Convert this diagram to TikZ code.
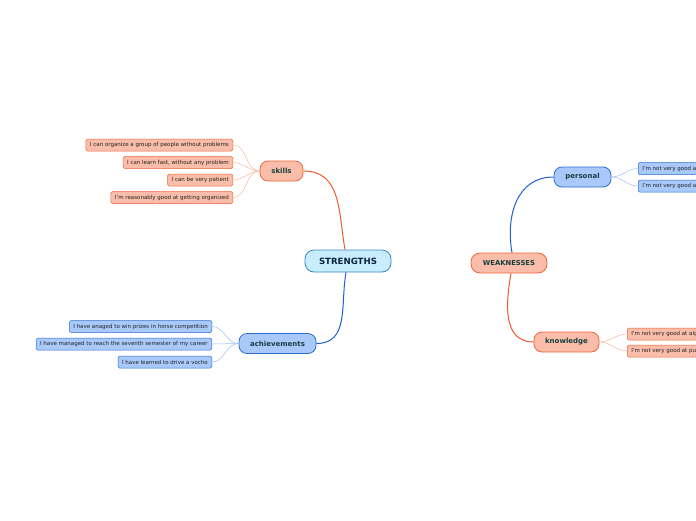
\documentclass[tikz,border=0pt]{standalone}
\usepackage{fontspec}
\setmainfont{DejaVu Sans}
\begin{document}
\begin{tikzpicture}[x=1pt,y=-1pt,
  salfill/.style={fill=salF,draw=salD},
  blufill/.style={fill=bluF,draw=bluD},
  mainbox/.style={rounded corners=9pt,line width=0.8pt,minimum height=22pt,inner xsep=6pt,font=\fontsize{8.6}{9}\selectfont\bfseries,text=mainT},
  subbox/.style={rounded corners=8pt,line width=0.8pt,minimum height=20pt,inner xsep=6pt,font=\fontsize{7}{8}\selectfont\bfseries,text=subT},
  leaf/.style={rounded corners=1.5pt,line width=0.5pt,minimum height=12pt,inner xsep=4pt,inner ysep=1pt,font=\fontsize{5.5}{6}\selectfont,text=leafT},
  oline/.style={draw=orgL,line width=1pt},
  bline/.style={draw=bluL,line width=1pt},
  olt/.style={draw=orgT,line width=0.5pt},
  blt/.style={draw=bluT,line width=0.5pt}]
\definecolor{salF}{HTML}{F9BDA9}
\definecolor{salD}{HTML}{F0663A}
\definecolor{bluF}{HTML}{A8C9FA}
\definecolor{bluD}{HTML}{2D6FD2}
\definecolor{cyF}{HTML}{C8EEFD}
\definecolor{cyD}{HTML}{3A86C8}
\definecolor{mainT}{HTML}{0D2240}
\definecolor{subT}{HTML}{173F3F}
\definecolor{leafT}{HTML}{222222}
\definecolor{orgL}{HTML}{F05A28}
\definecolor{bluL}{HTML}{1F5FCF}
\definecolor{orgT}{HTML}{F7B8A0}
\definecolor{bluT}{HTML}{9CBFF0}
\useasboundingbox (0,0) rectangle (696,520);
\clip (0,0) rectangle (696,520);
\fill[white] (0,0) rectangle (696,520);

\node[mainbox,fill=cyF,draw=cyD,minimum width=86pt] (S) at (348,261) {STRENGTHS};
\node[mainbox,salfill,minimum width=76pt,minimum height=20pt,font=\fontsize{6.8}{8}\selectfont\bfseries,text=subT] (W) at (509,263) {WEAKNESSES};

\node[subbox,salfill,minimum width=43pt] (sk) at (281.5,171) {skills};
\node[subbox,blufill,minimum width=77pt] (ac) at (277.5,343.5) {achievements};
\node[subbox,blufill,minimum width=57pt] (pe) at (582.5,177) {personal};
\node[subbox,salfill,minimum width=65pt] (kn) at (566.5,342) {knowledge};

\node[leaf,salfill,anchor=east] (s1) at (233,145) {I can organize a group of people without problems};
\node[leaf,salfill,anchor=east] (s2) at (233,162.5) {I can learn fast, without any problem};
\node[leaf,salfill,anchor=east] (s3) at (233,180) {I can be very patient};
\node[leaf,salfill,anchor=east] (s4) at (233,197.5) {I'm reasonably good at getting organized};

\node[leaf,blufill,anchor=east] (a1) at (212,326.5) {I have anaged to win prizes in horse competition};
\node[leaf,blufill,anchor=east] (a2) at (212,344) {I have managed to reach the seventh semester of my career};
\node[leaf,blufill,anchor=east] (a3) at (212,362) {I have learned to drive a vocho};

\node[leaf,blufill,anchor=west] (p1) at (638,168.5) {I'm not very good at algebra and maths};
\node[leaf,blufill,anchor=west] (p2) at (638,186) {I'm not very good at public speaking};

\node[leaf,salfill,anchor=west] (k1) at (627,334) {I'm not very good at algebra and maths};
\node[leaf,salfill,anchor=west] (k2) at (627,351) {I'm not very good at public speaking};

\draw[oline] ([xshift=-3pt]S.north) to[out=100,in=0,looseness=1.1] (sk.east);
\draw[bline] ([xshift=-2pt]S.south) to[out=-100,in=0,looseness=1.1] (ac.east);
\draw[bline] ([xshift=3pt]W.north) to[out=100,in=180,looseness=1.1] (pe.west);
\draw[oline] ([xshift=2pt]W.south) to[out=-100,in=180,looseness=1.1] (kn.west);

\foreach \l in {s1,s2,s3,s4} \draw[olt] (sk.west) to[out=180,in=0] (\l.east);
\foreach \l in {a1,a2,a3} \draw[blt] (ac.west) to[out=180,in=0] (\l.east);
\foreach \l in {p1,p2} \draw[blt] (pe.east) to[out=0,in=180] (\l.west);
\foreach \l in {k1,k2} \draw[olt] (kn.east) to[out=0,in=180] (\l.west);
\end{tikzpicture}
\end{document}
